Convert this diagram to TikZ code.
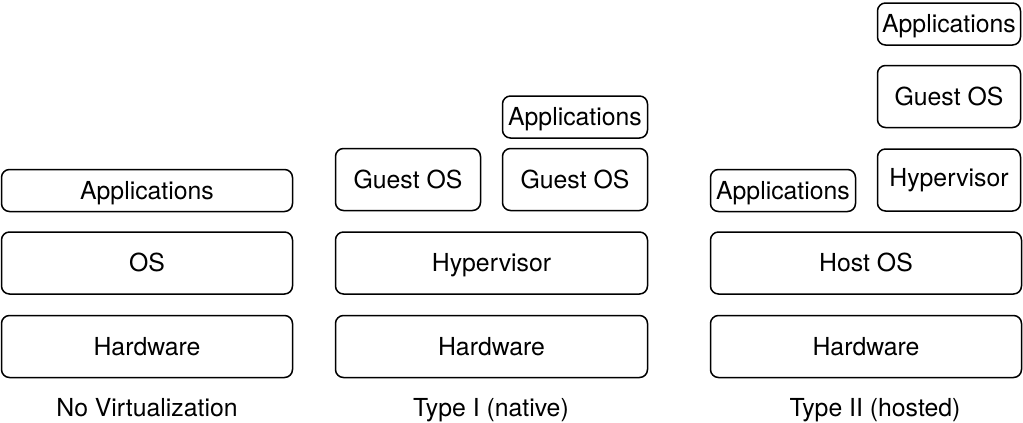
\documentclass[tikz,border=0pt]{standalone}
\usepackage{fontspec}
\setmainfont{TeX Gyre Heros}
\usetikzlibrary{positioning}

\begin{document}
\begin{tikzpicture}[x=0.5pt, y=-0.5pt,
    layer/.style={draw, rounded corners=4pt, line width=0.75pt, inner sep=1pt,
      font=\fontsize{12.4}{14}\selectfont, text height=8.9pt, text depth=0pt},
    wide/.style={layer, minimum width=#1, minimum height=31pt},
    slim/.style={layer, minimum width=#1, minimum height=21pt},
    caption/.style={font=\fontsize{12.4}{14}\selectfont, text height=8.9pt, text depth=0pt}]
    \useasboundingbox (0,0) rectangle (1023,423);

    % --- No virtualization ---
    \node[wide=145.5pt] (hw1) at (147,346.5) {Hardware};
    \node[wide=145.5pt] (os1) at (147,263) {OS};
    \node[slim=145.5pt] (app1) at (147,190.5) {Applications};
    \node[caption] (cap1) at (147,408) {No Virtualization};

    % --- Type I ---
    \node[wide=156pt] (hw2) at (491.5,346.5) {Hardware};
    \node[wide=156pt] (hyp2) at (491.5,263) {Hypervisor};
    \node[wide=72.5pt] (gos2a) at (408,179.5) {Guest OS};
    \node[wide=72.5pt] (gos2b) at (575,179.5) {Guest OS};
    \node[slim=72.5pt] (app2) at (575,117) {Applications};
    \node[caption] (cap2) at (491,408) {Type I (native)};

    % --- Type II ---
    \node[wide=155.5pt] (hw3) at (866,346.5) {Hardware};
    \node[wide=155.5pt] (host3) at (866,263) {Host OS};
    \node[slim=72.5pt] (app3a) at (783,190.5) {Applications};
    \node[wide=71.5pt, text depth=2pt] (hyp3) at (949,180) {Hypervisor};
    \node[wide=71.5pt] (gos3) at (949,96.5) {Guest OS};
    \node[slim=71.5pt] (app3b) at (949,24) {Applications};
    \node[caption] (cap3) at (875,408) {Type II (hosted)};
\end{tikzpicture}
\end{document}
